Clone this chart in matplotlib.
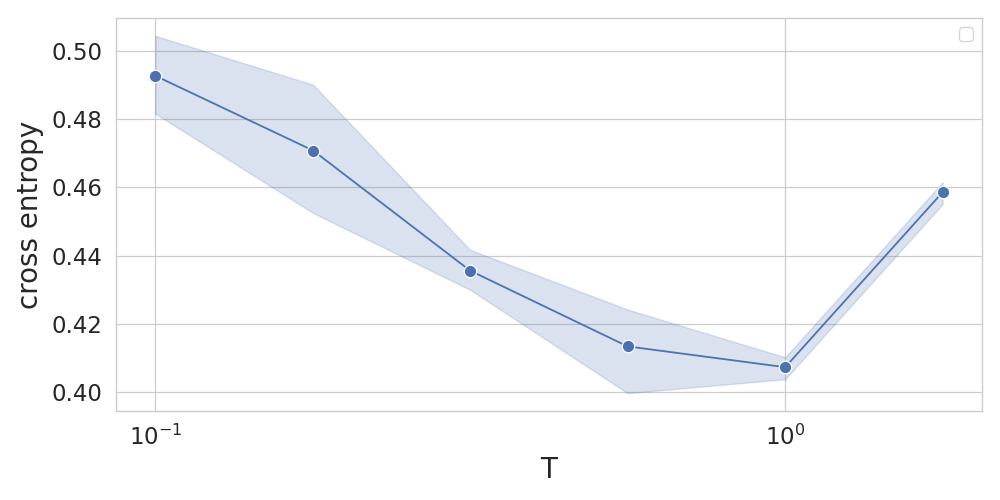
import matplotlib
matplotlib.use("Agg")
import matplotlib.pyplot as plt

T = [0.1, 0.178, 0.316, 0.562, 1.0, 1.778]
mean_ce = [0.4927, 0.4708, 0.4356, 0.4134, 0.4073, 0.4586]
ci_low = [0.4816, 0.4525, 0.4300, 0.3997, 0.4038, 0.4551]
ci_high = [0.5044, 0.4901, 0.4417, 0.4242, 0.4102, 0.4615]

color = "#4c72b0"
plt.rcParams.update({
    "font.family": "DejaVu Sans",
    "text.color": "#262626",
    "axes.labelcolor": "#262626",
    "xtick.color": "#262626",
    "ytick.color": "#262626",
})

fig = plt.figure(figsize=(10, 5), dpi=100)
ax = fig.add_axes([0.116, 0.178, 0.866, 0.786])
ax.set_facecolor("white")
ax.fill_between(T, ci_low, ci_high, color=color, alpha=0.2, linewidth=1)
ax.plot(T, mean_ce, color=color, linewidth=1.3, marker="o", markersize=9,
        markeredgecolor="white", markeredgewidth=0.9)
ax.set_xscale("log")
ax.minorticks_off()
ax.xaxis.set_minor_locator(matplotlib.ticker.NullLocator())
ax.set_yticks([0.40, 0.42, 0.44, 0.46, 0.48, 0.50])
ax.yaxis.set_major_formatter(matplotlib.ticker.FormatStrFormatter("%.2f"))
ax.grid(True, color="#cccccc", linewidth=0.9)
ax.set_axisbelow(True)
for s in ax.spines.values():
    s.set_color("#cccccc")
    s.set_linewidth(1.0)
ax.tick_params(axis="both", which="both", length=0, labelsize=16.5, pad=10)
ax.set_xlabel("T", fontsize=20, labelpad=4)
ax.set_ylabel("cross entropy", fontsize=20, labelpad=5)
ax.legend(loc="upper right", fontsize=13)
fig.savefig("out.png", dpi=100)
